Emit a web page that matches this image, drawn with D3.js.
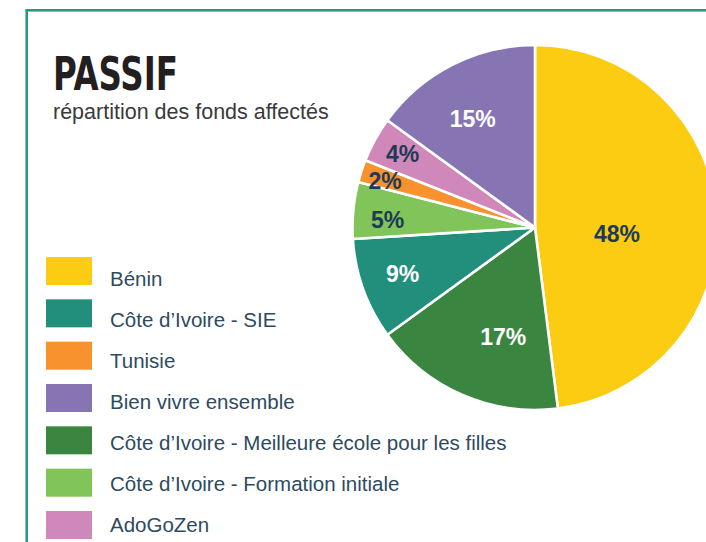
<!DOCTYPE html>
<html>
<head>
<meta charset="utf-8">
<script src="https://cdn.jsdelivr.net/npm/d3@7"></script>
<style>
  html, body { margin: 0; padding: 0; background: #fff; }
  svg { display: block; }
</style>
</head>
<body>
<div id="chart"></div>
<script>
// ---- data ----
const categories = [
  "Bénin",
  "Côte d’Ivoire - SIE",
  "Tunisie",
  "Bien vivre ensemble",
  "Côte d’Ivoire - Meilleure école pour les filles",
  "Côte d’Ivoire - Formation initiale",
  "AdoGoZen"
];
const values = [48, 9, 2, 15, 17, 5, 4];
const colors = ["#fccc12", "#218f7b", "#f7922f", "#8675b2", "#3a853f", "#80c45a", "#cf88b9"];
const labelColors = ["#1e3a55", "#ffffff", "#1e3a55", "#ffffff", "#ffffff", "#1e3a55", "#1e3a55"];
// clockwise order of slices from 12 o'clock
const pieOrder = [
  "Bénin",
  "Côte d’Ivoire - Meilleure école pour les filles",
  "Côte d’Ivoire - SIE",
  "Côte d’Ivoire - Formation initiale",
  "Tunisie",
  "AdoGoZen",
  "Bien vivre ensemble"
];
const title = "PASSIF";
const subtitle = "répartition des fonds affectés";

// ---- layout ----
const W = 706, H = 542;
const cx = 535, cy = 227.5, R = 182.5;
const labelNudge = {
  "Bénin": [0, 11.7],
  "Bien vivre ensemble": [-7.6, -1],
  "AdoGoZen": [-4.5, -3],
  "Tunisie": [-11, -1.5],
  "Côte d’Ivoire - Formation initiale": [-2, 6.7],
  "Côte d’Ivoire - SIE": [5, -3],
  "Côte d’Ivoire - Meilleure école pour les filles": [16, -1]
};

const svg = d3.select("#chart").append("svg")
  .attr("width", W).attr("height", H);

// frame
svg.append("rect")
  .attr("x", 26.7).attr("y", 10.3)
  .attr("width", 760).attr("height", 600)
  .attr("fill", "none")
  .attr("stroke", "#279a82")
  .attr("stroke-width", 2.6);

// title
svg.append("text")
  .attr("x", 53).attr("y", 90)
  .attr("font-family", "'Liberation Sans Narrow', 'Arial Narrow', 'DejaVu Sans Condensed', sans-serif")
  .attr("font-weight", "bold")
  .attr("font-size", 46.5)
  .attr("fill", "#231f20")
  .attr("textLength", 125)
  .attr("lengthAdjust", "spacingAndGlyphs")
  .text(title);

svg.append("text")
  .attr("x", 53).attr("y", 119.3)
  .attr("font-family", "'Liberation Sans', Arial, sans-serif")
  .attr("font-size", 21.5)
  .attr("fill", "#3a3a3a")
  .text(subtitle);

// pie
const data = pieOrder.map(name => {
  const i = categories.indexOf(name);
  return { name, value: values[i], color: colors[i], labelColor: labelColors[i] };
});

const pie = d3.pie().sort(null).value(d => d.value);
const arc = d3.arc().innerRadius(0).outerRadius(R);
const arcs = pie(data);

const g = svg.append("g").attr("transform", `translate(${cx},${cy})`);

g.selectAll("path.slice")
  .data(arcs)
  .enter().append("path")
  .attr("class", "slice")
  .attr("d", arc)
  .attr("fill", d => d.data.color)
  .attr("stroke", "#fff")
  .attr("stroke-width", 2.6)
  .attr("stroke-linejoin", "round");

function labelRadius(v) {
  if (v >= 40) return R * 0.45;
  if (v >= 15) return R * 0.66;
  return R * 0.8;
}

const fmt = d => d3.format(".0f")(d) + "%";

g.selectAll("text.pct")
  .data(arcs)
  .enter().append("text")
  .attr("class", "pct")
  .attr("transform", d => {
    const a = (d.startAngle + d.endAngle) / 2;
    const r = labelRadius(d.data.value);
    const n = labelNudge[d.data.name] || [0, 0];
    return `translate(${r * Math.sin(a) + n[0]},${-r * Math.cos(a) + n[1]})`;
  })
  .attr("text-anchor", "middle")
  .attr("dominant-baseline", "central")
  .attr("font-family", "'Liberation Sans', Arial, sans-serif")
  .attr("font-weight", "bold")
  .attr("font-size", 23)
  .attr("fill", d => d.data.labelColor)
  .text(d => fmt(d.data.value));

// legend: swatches and labels sit on slightly different row pitches
const swatchY = d3.scalePoint()
  .domain(categories)
  .range([257, 511]);
const textY = d3.scalePoint()
  .domain(categories)
  .range([286, 532]);

const leg = svg.append("g");

leg.selectAll("rect.swatch")
  .data(categories)
  .enter().append("rect")
  .attr("class", "swatch")
  .attr("x", 46)
  .attr("y", d => swatchY(d))
  .attr("width", 46).attr("height", 28)
  .attr("fill", (d, i) => colors[i]);

leg.selectAll("text.lab")
  .data(categories)
  .enter().append("text")
  .attr("class", "lab")
  .attr("x", 110)
  .attr("y", d => textY(d))
  .attr("font-family", "'Liberation Sans', Arial, sans-serif")
  .attr("font-size", 20.5)
  .attr("fill", "#2e4a5f")
  .text(d => d);
</script>
</body>
</html>
